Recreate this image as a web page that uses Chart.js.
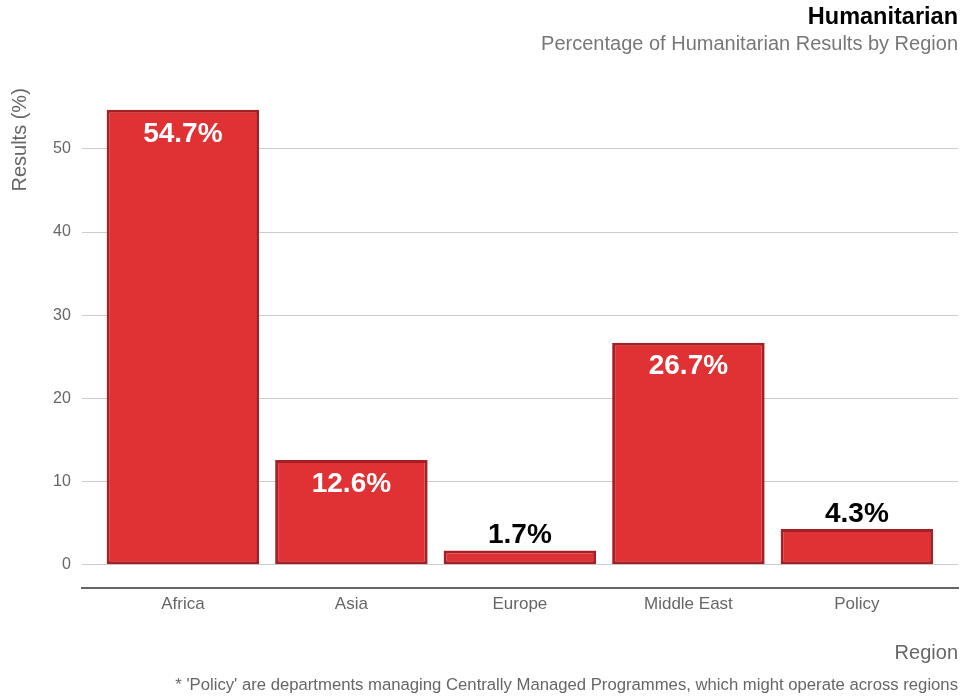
<!DOCTYPE html>
<html>
<head>
<meta charset="utf-8">
<script src="https://cdn.jsdelivr.net/npm/chart.js@4.4.1/dist/chart.umd.min.js"></script>
<style>
  html, body { margin: 0; padding: 0; background: #fff; }
  #wrap { position: relative; width: 961px; height: 699px; }
  #note { position: absolute; right: 3px; bottom: 4px; font: 16.7px "Liberation Sans", Arial, sans-serif; color: #666; white-space: nowrap; }
</style>
</head>
<body>
<div id="wrap">
  <canvas id="regionChart" width="961" height="699"></canvas>
  <div id="note">* 'Policy' are departments managing Centrally Managed Programmes, which might operate across regions</div>
</div>
<script>
const regionLabels = ['Africa', 'Asia', 'Europe', 'Middle East', 'Policy'];
const resultValues = [54.7, 12.6, 1.7, 26.7, 4.3];
const yTickValues = [0, 10, 20, 30, 40, 50];

const FONT = '"Liberation Sans", Arial, sans-serif';

// labels inside the tall bars, above the short ones
const barValueLabels = {
    id: 'barValueLabels',
    afterDatasetsDraw(chart) {
        const ctx = chart.ctx;
        const meta = chart.getDatasetMeta(0);
        ctx.save();
        ctx.font = 'bold 28px ' + FONT;
        ctx.textAlign = 'center';
        ctx.textBaseline = 'middle';
        meta.data.forEach((bar, i) => {
            const v = resultValues[i];
            if (v > 10) {
                ctx.fillStyle = '#ffffff';
                ctx.fillText(v.toFixed(1) + '%', bar.x, bar.y + 24);
            } else {
                ctx.fillStyle = '#000000';
                ctx.fillText(v.toFixed(1) + '%', bar.x, bar.y - 15);
            }
        });
        ctx.restore();
    }
};

new Chart(document.getElementById('regionChart').getContext('2d'), {
    type: 'bar',
    data: {
        datasets: [{
            data: resultValues.map((v, i) => ({ x: i, y: v })),
            backgroundColor: '#e03134',
            borderColor: '#a61f24',
            borderWidth: 3,
            borderSkipped: false,
            barPercentage: 0.905,
            categoryPercentage: 1
        }]
    },
    options: {
        responsive: false,
        animation: false,
        layout: { padding: { left: 8, right: 3, top: 0, bottom: 34 } },
        plugins: {
            legend: { display: false },
            tooltip: { enabled: false },
            title: {
                display: true,
                text: 'Humanitarian',
                align: 'end',
                color: '#000',
                font: { family: FONT, size: 23.5, weight: 'bold' },
                padding: { top: 3, bottom: 1 }
            },
            subtitle: {
                display: true,
                text: 'Percentage of Humanitarian Results by Region',
                align: 'end',
                color: '#777',
                font: { family: FONT, size: 20 },
                padding: { top: 0, bottom: 32 }
            }
        },
        scales: {
            x: {
                type: 'linear',
                offset: false,
                min: -0.6,
                max: 4.6,
                afterBuildTicks: axis => { axis.ticks = regionLabels.map((_, i) => ({ value: i })); },
                ticks: {
                    callback: v => regionLabels[v],
                    color: '#666',
                    font: { family: FONT, size: 17 },
                    padding: -1
                },
                grid: { display: false },
                border: { display: true, color: '#666', width: 2 },
                title: {
                    display: true,
                    text: 'Region',
                    align: 'end',
                    color: '#666',
                    font: { family: FONT, size: 20 },
                    padding: { top: 27, bottom: 0 }
                }
            },
            y: {
                min: -2.76,
                max: 57.3,
                afterBuildTicks: axis => { axis.ticks = yTickValues.map(v => ({ value: v })); },
                ticks: {
                    color: '#666',
                    font: { family: FONT, size: 16 },
                    padding: 11
                },
                grid: { color: '#cccccc', lineWidth: 1, drawTicks: false },
                border: { display: false },
                title: {
                    display: true,
                    text: 'Results (%)',
                    align: 'end',
                    color: '#666',
                    font: { family: FONT, size: 20 },
                    padding: { top: 0, bottom: 10 }
                }
            }
        }
    },
    plugins: [barValueLabels]
});
</script>
</body>
</html>
